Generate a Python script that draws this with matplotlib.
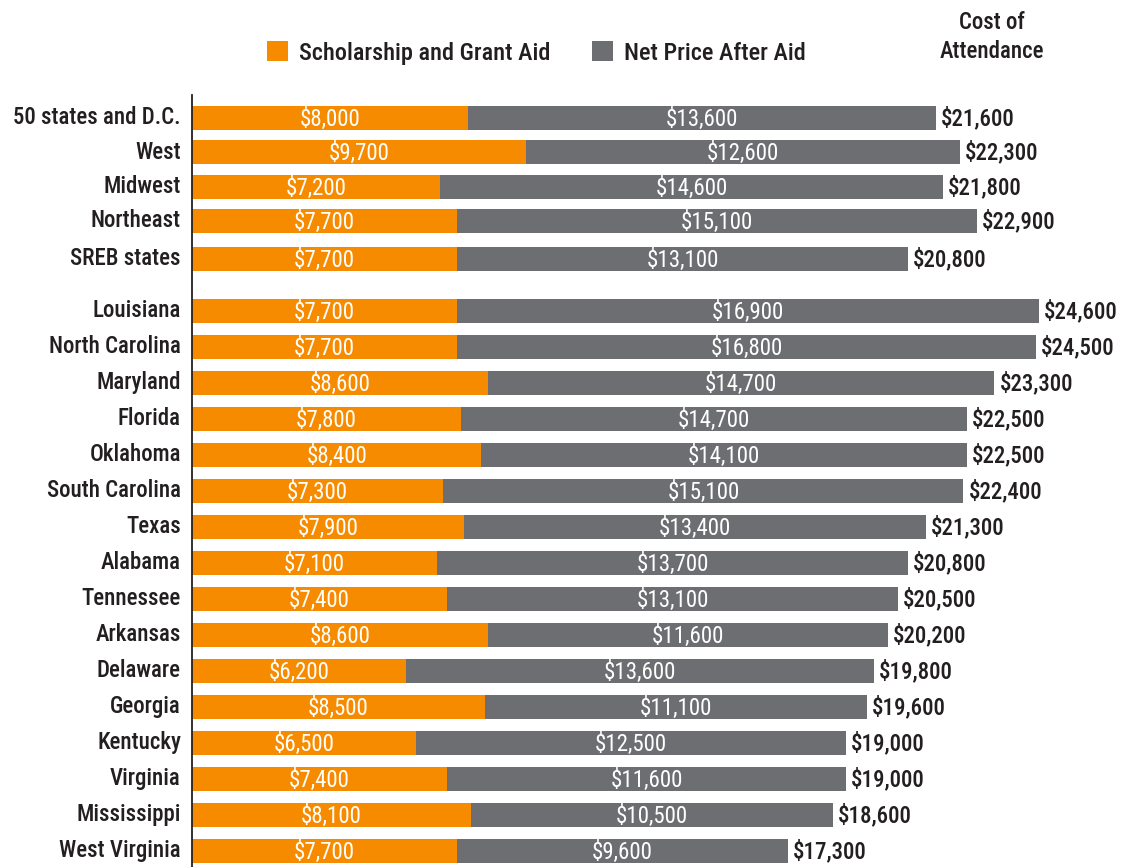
import matplotlib
matplotlib.use("Agg")
import matplotlib.pyplot as plt
import matplotlib.font_manager as fm
from matplotlib.textpath import TextPath
import numpy as np

categories = ["50 states and D.C.", "West", "Midwest", "Northeast", "SREB states",
              "Louisiana", "North Carolina", "Maryland", "Florida", "Oklahoma",
              "South Carolina", "Texas", "Alabama", "Tennessee", "Arkansas",
              "Delaware", "Georgia", "Kentucky", "Virginia", "Mississippi", "West Virginia"]
aid = [8000, 9700, 7200, 7700, 7700,
       7700, 7700, 8600, 7800, 8400, 7300, 7900, 7100, 7400, 8600,
       6200, 8500, 6500, 7400, 8100, 7700]
net_price = [13600, 12600, 14600, 15100, 13100,
             16900, 16800, 14700, 14700, 14100, 15100, 13400, 13700, 13100, 11600,
             13600, 11100, 12500, 11600, 10500, 9600]
cost = [21600, 22300, 21800, 22900, 20800,
        24600, 24500, 23300, 22500, 22500, 22400, 21300, 20800, 20500, 20200,
        19800, 19600, 19000, 19000, 18600, 17300]
series_names = ["Scholarship and Grant Aid", "Net Price After Aid"]
total_title = "Cost of\nAttendance"

ORANGE = "#F78B00"
GRAY = "#6D6E71"
TEXT = "#231F20"

# ---- pick the narrowest available font (regular + a heavier variant) ----
def wnum(w):
    m = {"normal": 400, "regular": 400, "book": 400, "medium": 500, "semibold": 600,
         "bold": 700, "light": 300}
    return w if isinstance(w, int) else m.get(str(w).lower(), 400)

def pick_fonts():
    fl = [f for f in fm.fontManager.ttflist if f.style == "normal"]
    prefs = [
        lambda f: f.name == "Liberation Sans Narrow",
        lambda f: f.name == "Roboto Condensed",
        lambda f: f.name == "Open Sans Condensed",
        lambda f: f.name.startswith("DejaVu Sans") and ("Condensed" in f.fname) and "Mono" not in f.fname,
        lambda f: ("Condensed" in f.name or "Narrow" in f.name),
    ]
    for p in prefs:
        c = [f for f in fl if p(f)]
        reg = [f for f in c if wnum(f.weight) == 400]
        if reg:
            med = [f for f in c if wnum(f.weight) == 500] or \
                  [f for f in c if wnum(f.weight) == 600] or reg
            return (fm.FontProperties(fname=reg[0].fname),
                    fm.FontProperties(fname=med[0].fname))
    r = fm.FontProperties(family="Roboto")
    return r, fm.FontProperties(family="Roboto", weight="medium")

FP_REG, FP_MED = pick_fonts()

def text_ext(s, size_pt, prop):
    return TextPath((0, 0), s, size=size_pt, prop=prop).get_extents()

FS = 16.5
w = text_ext("50 states and D.C.", FS * 100 / 72, FP_MED).width
if w > 168:
    FS = max(FS * 168 / w, 12)

def fp(base, size):
    p = base.copy()
    p.set_size(size)
    return p

# half cap height in points (to center digits/capitals on a row)
HALF_CAP = text_ext("H", FS, FP_MED).height / 2

# layout: row positions (first group slightly tighter, gap before states)
pos = [0, 0.961, 1.925, 2.87, 3.925] + [5.37 + i for i in range(16)]

W, H = 1126, 867
fig = plt.figure(figsize=(W / 100, H / 100), dpi=100)
ax = fig.add_axes([192 / W, 0, (W - 192) / W, 1 - 94.7 / H])

bh = 0.66
b1 = ax.barh(pos, aid, height=bh, color=ORANGE, label=series_names[0])
b2 = ax.barh(pos, net_price, left=aid, height=bh, color=GRAY, label=series_names[1])

ytr = ax.get_yaxis_transform()
for y, a, n, c, cat in zip(pos, aid, net_price, cost, categories):
    ax.annotate(f"${a:,}", xy=(a / 2, y), xytext=(0, -HALF_CAP), textcoords="offset points",
                ha="center", va="baseline", color="white", fontproperties=fp(FP_REG, FS))
    ax.annotate(f"${n:,}", xy=(a + n / 2, y), xytext=(0, -HALF_CAP), textcoords="offset points",
                ha="center", va="baseline", color="white", fontproperties=fp(FP_REG, FS))
    ax.annotate(f"${c:,}", xy=(a + n, y), xytext=(3.6, -HALF_CAP + 0.7), textcoords="offset points",
                ha="left", va="baseline", color=TEXT, fontproperties=fp(FP_MED, FS))
    ax.annotate(cat, xy=(0, y), xycoords=ytr, xytext=(-8, -HALF_CAP + 1.2),
                textcoords="offset points", ha="right", va="baseline", color=TEXT,
                fontproperties=fp(FP_MED, FS), annotation_clip=False)

ax.set_xlim(0, (W - 192) / 0.03444)
ax.set_ylim((867 - 117.7) / 36, (94.7 - 117.7) / 36)
ax.set_yticks([])
ax.set_xticks([])
for s in ["top", "right", "bottom"]:
    ax.spines[s].set_visible(False)
ax.spines["left"].set_color(TEXT)
ax.spines["left"].set_linewidth(1.3)

LFS = FS * 1.06
fig.legend(handles=[b1, b2], labels=series_names, loc="center left",
           bbox_to_anchor=(267 / W, 1 - 53 / H), ncol=2, frameon=False,
           prop=fp(FP_MED, LFS), handlelength=0.85, handleheight=0.85, handletextpad=0.45,
           columnspacing=1.75, borderpad=0, borderaxespad=0, labelcolor=TEXT)
fig.text(992 / W, 1 - 37 / H, total_title, ha="center", va="center",
         fontproperties=fp(FP_MED, FS), color=TEXT, linespacing=1.3)

fig.savefig("out.png", dpi=100)
